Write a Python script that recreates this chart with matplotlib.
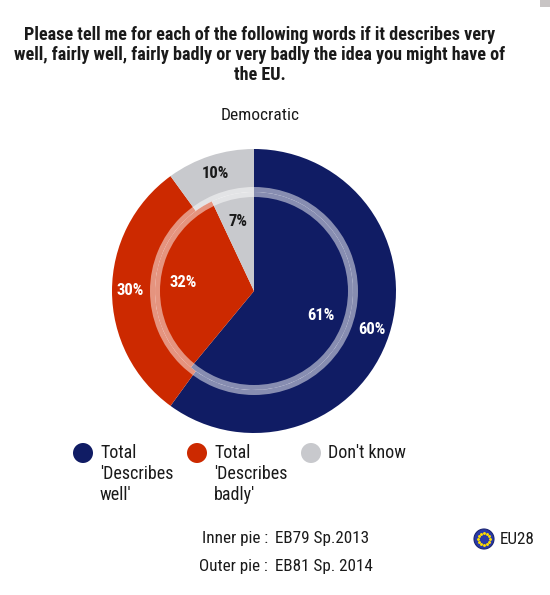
import matplotlib
matplotlib.use("Agg")
import matplotlib.pyplot as plt
from matplotlib.patches import Wedge, Circle, Rectangle
import numpy as np

TITLE = ("Please tell me for each of the following words if it describes very\n"
         "well, fairly well, fairly badly or very badly the idea you might have of\n"
         "the EU.")
SUBTITLE = "Democratic"
categories = ["Total\n'Describes\nwell'", "Total\n'Describes\nbadly'", "Don't know"]
outer_values = [60, 30, 10]   # EB81 Sp. 2014
inner_values = [61, 32, 7]    # EB79 Sp.2013
colors = ["#101c64", "#cc2900", "#c8c9cd"]
label_colors = ["white", "white", "#1a1a1a"]

W, H = 550, 595
FONT = ["Roboto Condensed", "Liberation Sans", "DejaVu Sans"]
TXT = "#1a1a1a"


def Y(y):
    return H - y


fig = plt.figure(figsize=(W / 100, H / 100), dpi=100)
ax = fig.add_axes([0, 0, 1, 1])

cx, cy = 254, Y(291)
r_out, r_in = 142, 99

ax.pie(outer_values, colors=colors, radius=r_out, center=(cx, cy),
       startangle=90, counterclock=False,
       wedgeprops=dict(width=r_out - r_in, linewidth=0),
       autopct=lambda p: f"{p:.0f}%", pctdistance=0.87,
       textprops=dict(fontsize=12, fontweight="bold", family=FONT))
ax.pie(inner_values, colors=colors, radius=r_in, center=(cx, cy),
       startangle=90, counterclock=False,
       wedgeprops=dict(linewidth=0),
       autopct=lambda p: f"{p:.0f}%", pctdistance=0.72,
       textprops=dict(fontsize=12, fontweight="bold", family=FONT))
for i, t in enumerate(ax.texts):
    t.set_color(label_colors[i % 3])

# translucent ring between the two pies
ax.add_patch(Wedge((cx, cy), 104, 0, 360, width=10, facecolor="white",
                   alpha=0.5, edgecolor="none"))

ax.set_xlim(0, W)
ax.set_ylim(0, H)
ax.set_aspect("equal")
ax.axis("off")

fig.text(260 / W, 1 - 55 / H, TITLE, ha="center", va="center",
         fontsize=13.1, fontweight="bold", family=FONT, color=TXT,
         linespacing=1.15)
fig.text(260 / W, 1 - 116 / H, SUBTITLE, ha="center", va="center",
         fontsize=12.5, family=FONT, color=TXT)

# legend
for i, (lab, col) in enumerate(zip(categories, colors)):
    x0 = 83 + i * 114
    ax.add_patch(Circle((x0, Y(453)), 10, facecolor=col, edgecolor="none"))
    ax.text(x0 + 17, Y(444), lab, ha="left", va="top", fontsize=13,
            family=FONT, color=TXT, linespacing=1.22)

# footer
for yy, name, wave in [(539, "Inner pie :", "EB79 Sp.2013"),
                       (567, "Outer pie :", "EB81 Sp. 2014")]:
    ax.text(268, Y(yy), name, ha="right", va="center", fontsize=12.3,
            family=FONT, color=TXT)
    ax.text(275, Y(yy), wave, ha="left", va="center", fontsize=12.3,
            family=FONT, color=TXT)

# EU flag badge
ax.add_patch(Circle((484, Y(539)), 10, facecolor="#2a3aa8", edgecolor="#1a2470",
                    linewidth=0.8))
ang = np.linspace(0, 2 * np.pi, 13)[:-1]
ax.scatter(484 + 6 * np.cos(ang), Y(539) + 6 * np.sin(ang), s=1.2,
           color="#ffdd00", zorder=5)
ax.text(500, Y(539), "EU28", ha="left", va="center", fontsize=12.3,
        family=FONT, color=TXT)

ax.add_patch(Rectangle((540, Y(7)), 10, 7, facecolor="#c8c4c4", edgecolor="none"))

fig.savefig("out.png", dpi=100)
